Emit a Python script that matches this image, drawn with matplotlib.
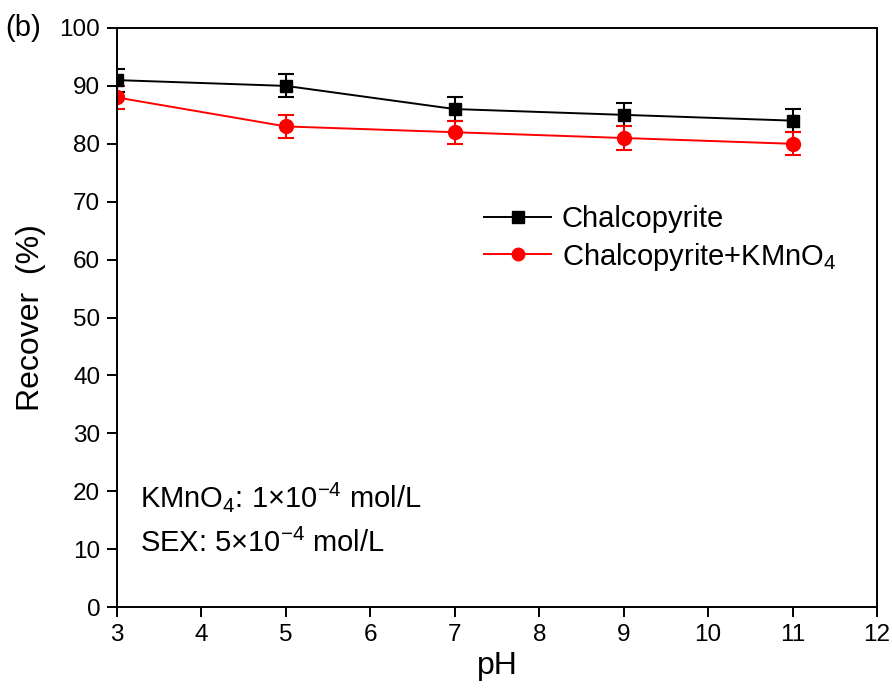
import matplotlib.pyplot as plt

plt.rcParams['font.family'] = ['Liberation Sans', 'DejaVu Sans']
plt.rcParams['mathtext.fontset'] = 'custom'
plt.rcParams['mathtext.rm'] = 'Liberation Sans'

ph = [3, 5, 7, 9, 11]
chalco = [91, 90, 86, 85, 84]
chalco_err = [2, 2, 2, 2, 2]
chalco_kmno4 = [88, 83, 82, 81, 80]
chalco_kmno4_err = [2, 2, 2, 2, 2]

fig = plt.figure(figsize=(8.92, 6.96), dpi=100)
ax = fig.add_axes([117 / 892, 1 - 607 / 696, 760 / 892, 579 / 696])

eb1 = ax.errorbar(ph, chalco, yerr=chalco_err, color='black', marker='s', markersize=9,
                  linewidth=1.4, capsize=6, elinewidth=1.5, capthick=1.5)
eb2 = ax.errorbar(ph, chalco_kmno4, yerr=chalco_kmno4_err, color='red', marker='o',
                  markersize=10, linewidth=1.4, capsize=6, elinewidth=1.5, capthick=1.5)

ax.set_xlim(3, 12)
ax.set_ylim(0, 100)
ax.set_xticks(range(3, 13))
ax.set_yticks(range(0, 101, 10))
ax.tick_params(direction='out', length=7, width=1.4, labelsize=17.5, pad=5)
for s in ax.spines.values():
    s.set_linewidth(1.4)

ax.set_xlabel('pH', fontsize=23, labelpad=4)
ax.set_ylabel('Recover  (%)', fontsize=23, labelpad=10)

ax.legend([eb1[0], eb2[0]], ['Chalcopyrite', r'Chalcopyrite+KMnO$_4$'],
          loc='upper left', bbox_to_anchor=(0.468, 0.714), frameon=False, fontsize=21,
          handlelength=2.3, borderaxespad=0, labelspacing=0.25, handletextpad=0.35,
          markerscale=0.9)

ax.text(0.03, 0.19, r'KMnO$_4$: 1$\times$10$^{-4}$ mol/L', transform=ax.transAxes,
        fontsize=21, va='center')
ax.text(0.03, 0.11, r'SEX: 5$\times$10$^{-4}$ mol/L', transform=ax.transAxes,
        fontsize=21, va='center')

fig.text(5 / 892, 1 - 28 / 696, '(b)', fontsize=21, va='center')

fig.savefig('out.png', dpi=100)
